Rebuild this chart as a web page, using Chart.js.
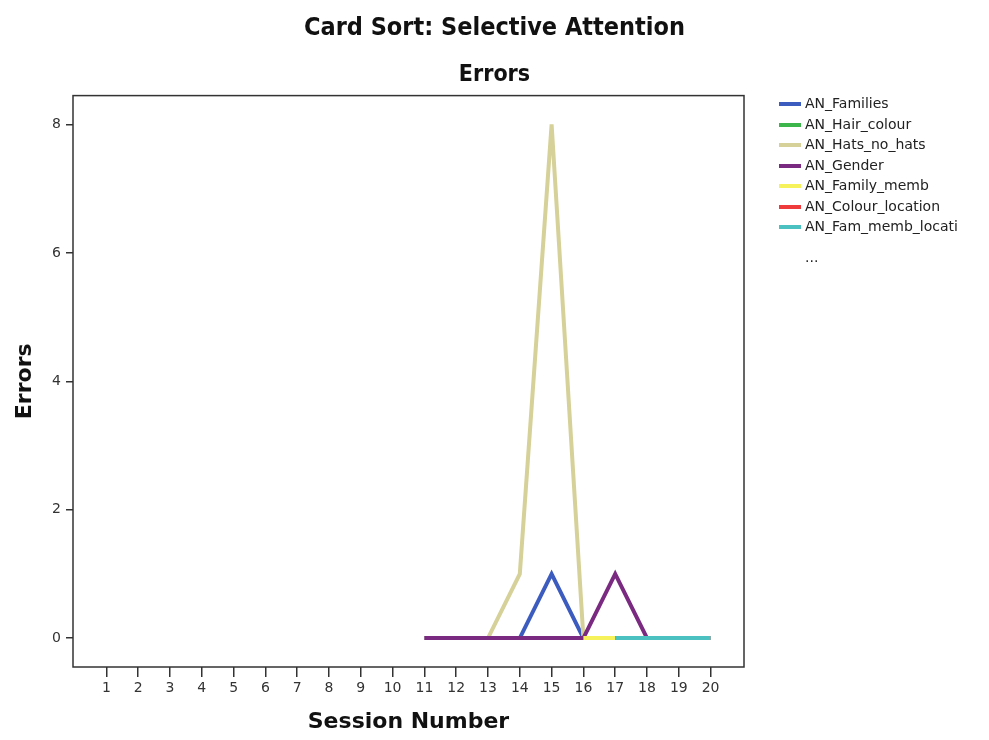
<!DOCTYPE html>
<html>
<head>
<meta charset="utf-8">
<title>Card Sort: Selective Attention</title>
<script src="https://cdn.jsdelivr.net/npm/chart.js@4/dist/chart.umd.min.js"></script>
<style>
  html, body { margin: 0; padding: 0; background: #fff; }
  #wrap { position: relative; width: 989px; height: 740px; }
  #legend {
    position: absolute; left: 779px; top: 93px;
    font-family: "DejaVu Sans", sans-serif; font-size: 14px; color: #222;
  }
  .item { height: 20.5px; line-height: 20.5px; white-space: nowrap; }
  .swatch { display: inline-block; width: 22px; height: 4px; vertical-align: middle; margin-right: 4px; }
</style>
</head>
<body>
<div id="wrap">
  <canvas id="chart" width="989" height="740"></canvas>
  <div id="legend"></div>
</div>
<script>
// Sessions 1..20 on the x axis
const sessions = [1, 2, 3, 4, 5, 6, 7, 8, 9, 10, 11, 12, 13, 14, 15, 16, 17, 18, 19, 20];
const yTicks = [0, 2, 4, 6, 8];

// Errors per session (null = no observation)
const anFamilies     = [null, null, null, null, null, null, null, null, null, null, 0, 0, 0, 0, 1, 0, null, null, null, null];
const anHairColour   = [null, null, null, null, null, null, null, null, null, null, null, null, null, null, null, null, null, null, null, null];
const anHatsNoHats   = [null, null, null, null, null, null, null, null, null, null, 0, 0, 0, 1, 8, 0, null, null, null, null];
const anGender       = [null, null, null, null, null, null, null, null, null, null, 0, 0, 0, 0, 0, 0, 1, 0, null, null];
const anFamilyMemb   = [null, null, null, null, null, null, null, null, null, null, null, null, null, null, null, 0, 0, null, null, null];
const anColourLoc    = [null, null, null, null, null, null, null, null, null, null, null, null, null, null, null, null, 0, 0, 0, 0];
const anFamMembLoc   = [null, null, null, null, null, null, null, null, null, null, null, null, null, null, null, null, 0, 0, 0, 0];

const seriesNames = ['AN_Families', 'AN_Hair_colour', 'AN_Hats_no_hats', 'AN_Gender',
                     'AN_Family_memb', 'AN_Colour_location', 'AN_Fam_memb_locati'];
const seriesData = [anFamilies, anHairColour, anHatsNoHats, anGender, anFamilyMemb, anColourLoc, anFamMembLoc];
const seriesColors = ['#3d5cbf', '#3cb54b', '#d6d198', '#7a2a80', '#f6f25c', '#ef3b3b', '#4cc1c1'];

const titleFont = "'Liberation Sans Narrow', 'DejaVu Sans Condensed', sans-serif";
const axisFont = "'DejaVu Sans', sans-serif";
const tickFont = "'DejaVu Sans', sans-serif";

// datasets, later series drawn on top (like SPSS)
const datasets = seriesNames.map((name, i) => ({
  label: name,
  data: sessions.map((s, j) => ({ x: s, y: seriesData[i][j] })),
  borderColor: seriesColors[i],
  backgroundColor: seriesColors[i],
  borderWidth: 4,
  pointRadius: 0,
  tension: 0,
  spanGaps: false,
  order: seriesNames.length - i
}));

// box around the plot
const framePlugin = {
  id: 'frame',
  afterDraw(chart) {
    const a = chart.chartArea;
    const ctx = chart.ctx;
    ctx.save();
    ctx.strokeStyle = '#333';
    ctx.lineWidth = 1.5;
    ctx.strokeRect(a.left, a.top, a.right - a.left, a.bottom - a.top);
    ctx.restore();
  }
};

new Chart(document.getElementById('chart'), {
  type: 'line',
  data: { datasets: datasets },
  options: {
    responsive: false,
    animation: false,
    layout: { padding: 0 },
    plugins: {
      legend: { display: false },
      tooltip: { enabled: false },
      title: {
        display: true,
        text: 'Card Sort: Selective Attention',
        color: '#111',
        font: { family: titleFont, size: 25, weight: 'bold' },
        padding: { top: 13, bottom: 8 }
      },
      subtitle: {
        display: true,
        text: 'Errors',
        color: '#111',
        font: { family: titleFont, size: 23, weight: 'bold' },
        padding: { top: 10, bottom: 7 }
      }
    },
    scales: {
      x: {
        type: 'linear',
        min: -0.05,
        max: 21.05,
        afterBuildTicks: axis => { axis.ticks = sessions.map(v => ({ value: v })); },
        afterFit: axis => { axis.height = 73; },
        border: { display: false },
        grid: { display: true, drawOnChartArea: false, drawTicks: true, tickLength: 10, color: '#333', lineWidth: 1.5 },
        ticks: { color: '#333', font: { family: tickFont, size: 14 }, padding: 3, maxRotation: 0, autoSkip: false },
        title: {
          display: true, text: 'Session Number', color: '#111',
          font: { family: axisFont, size: 22, weight: 'bold' },
          padding: { top: 2, bottom: 5 }
        }
      },
      y: {
        min: -0.45,
        max: 8.45,
        afterBuildTicks: axis => { axis.ticks = yTicks.map(v => ({ value: v })); },
        afterFit: axis => { axis.width = 73; },
        border: { display: false },
        grid: { display: true, drawOnChartArea: false, drawTicks: true, tickLength: 7, color: '#333', lineWidth: 1.5 },
        ticks: { color: '#333', font: { family: tickFont, size: 14 }, padding: 5 },
        title: {
          display: true, text: 'Errors', color: '#111',
          font: { family: axisFont, size: 22, weight: 'bold' },
          padding: { top: 12, bottom: 0 }
        }
      },
      // empty right axis, keeps room for the legend
      yRight: {
        position: 'right',
        display: true,
        afterFit: axis => { axis.width = 245; },
        border: { display: false },
        grid: { display: false },
        ticks: { display: false }
      }
    }
  },
  plugins: [framePlugin]
});

// legend in html
const legendEl = document.getElementById('legend');
seriesNames.forEach((name, i) => {
  const row = document.createElement('div');
  row.className = 'item';
  row.innerHTML = '<span class="swatch" style="background:' + seriesColors[i] + '"></span>' + name;
  legendEl.appendChild(row);
});
const more = document.createElement('div');
more.className = 'item';
more.style.paddingLeft = '26px';
more.style.marginTop = '10px';
more.textContent = '...';
legendEl.appendChild(more);
</script>
</body>
</html>
